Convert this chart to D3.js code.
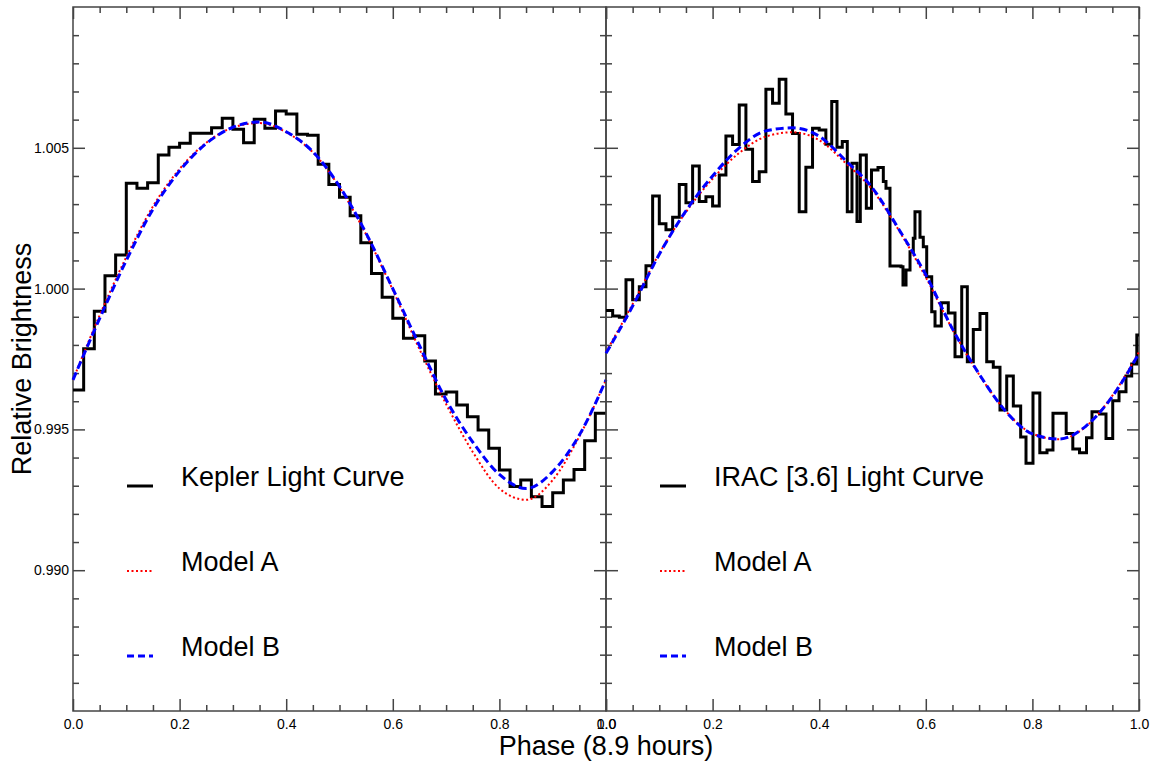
<!DOCTYPE html>
<html lang="en">
<meta charset="UTF-8">
<title>Kepler and IRAC light curves</title>
<style>
body { margin: 0; background: #fff; }
svg text { font-family: "Liberation Sans", Arial, Helvetica, sans-serif; fill: #000; }
.tick line { stroke: #444; stroke-width: 1.5; }
.frame { fill: none; stroke: #444; stroke-width: 1.5; }
.tick text { font-size: 14px; }
</style>
<script src="https://d3js.org/d3.v7.min.js"></script>
<body>
<svg id="chart" width="1158" height="762"></svg>
<script>
// Kepler histogram, 50 bins of 0.02 in phase
var keplerPhase = d3.range(0, 1, 0.02);
var keplerFlux = [
  0.99640, 0.99786, 0.99920, 1.00046, 1.00119, 1.00374, 1.00356, 1.00376, 1.00474, 1.00502,
  1.00516, 1.00552, 1.00552, 1.00571, 1.00605, 1.00566, 1.00518, 1.00601, 1.00569, 1.00631,
  1.00620, 1.00548, 1.00545, 1.00442, 1.00370, 1.00324, 1.00259, 1.00163, 1.00054, 0.99969,
  0.99895, 0.99824, 0.99833, 0.99743, 0.99626, 0.99633, 0.99587, 0.99545, 0.99498, 0.99433,
  0.99356, 0.99297, 0.99320, 0.99261, 0.99226, 0.99275, 0.99320, 0.99358, 0.99460, 0.99557
];

// IRAC [3.6] histogram, left edge of each bin
var iracPhase = [
  0.0000, 0.0125, 0.0250, 0.0375, 0.0500, 0.0625, 0.0750, 0.0875, 0.1000, 0.1125,
  0.1250, 0.1375, 0.1500, 0.1625, 0.1750, 0.1875, 0.2000, 0.2125, 0.2250, 0.2375,
  0.2500, 0.2625, 0.2750, 0.2875, 0.3000, 0.3125, 0.3250, 0.3375, 0.3500, 0.3625,
  0.3750, 0.3875, 0.4000, 0.4125, 0.4235, 0.4334, 0.4433, 0.4527, 0.4615, 0.4709,
  0.4771, 0.4884, 0.4981, 0.5103, 0.5203, 0.5253, 0.5328, 0.5428, 0.5535, 0.5572,
  0.5629, 0.5704, 0.5765, 0.5797, 0.5891, 0.5953, 0.6017, 0.6111, 0.6173, 0.6291,
  0.6422, 0.6548, 0.6674, 0.6779, 0.6891, 0.7017, 0.7143, 0.7266, 0.7392, 0.7518,
  0.7642, 0.7780, 0.7880, 0.8011, 0.8139, 0.8274, 0.8386, 0.8634, 0.8758, 0.8884,
  0.9015, 0.9118, 0.9259, 0.9381, 0.9507, 0.9625, 0.9756, 0.9863, 0.9959
];
var iracFlux = [
  0.99922, 0.99903, 0.99898, 1.00031, 0.99960, 1.00007, 1.00081, 1.00329, 1.00230, 1.00209,
  1.00253, 1.00370, 1.00305, 1.00435, 1.00309, 1.00326, 1.00293, 1.00403, 1.00542, 1.00512,
  1.00652, 1.00495, 1.00380, 1.00415, 1.00708, 1.00658, 1.00743, 1.00620, 1.00551, 1.00273,
  1.00431, 1.00569, 1.00563, 1.00513, 1.00664, 1.00502, 1.00522, 1.00273, 1.00445, 1.00238,
  1.00474, 1.00285, 1.00421, 1.00430, 1.00380, 1.00356, 1.00080, 1.00080, 1.00078, 1.00013,
  1.00066, 1.00131, 1.00179, 1.00273, 1.00182, 1.00149, 1.00042, 0.99918, 0.99867, 0.99950,
  0.99913, 0.99758, 1.00007, 0.99740, 0.99855, 0.99912, 0.99740, 0.99721, 0.99569, 0.99690,
  0.99583, 0.99473, 0.99380, 0.99629, 0.99417, 0.99427, 0.99557, 0.99485, 0.99430, 0.99417,
  0.99470, 0.99563, 0.99555, 0.99468, 0.99602, 0.99634, 0.99690, 0.99732, 0.99835
];

// model curves sampled every 0.05 in phase
var modelPhase = d3.range(0, 21).map(i => i * 0.05);
var keplerModelA = [0.99676, 0.99905, 1.00112, 1.00292, 1.00425, 1.00518, 1.00572, 1.00588, 1.00555, 1.00484,
  1.00360, 1.00192, 0.99995, 0.99785, 0.99590, 0.99420, 0.99290, 0.99250, 0.99320, 0.99475, 0.99676];
var keplerModelB = [0.99676, 0.99894, 1.00100, 1.00282, 1.00418, 1.00515, 1.00573, 1.00592, 1.00557, 1.00486,
  1.00363, 1.00196, 1.00000, 0.99798, 0.99605, 0.99455, 0.99340, 0.99290, 0.99350, 0.99480, 0.99676];
var iracModelA = [0.99775, 0.99945, 1.00125, 1.00272, 1.00390, 1.00482, 1.00540, 1.00555, 1.00527, 1.00445,
  1.00350, 1.00205, 1.00040, 0.99855, 0.99695, 0.99565, 0.99485, 0.99465, 0.99510, 0.99620, 0.99775];
var iracModelB = [0.99770, 0.99938, 1.00122, 1.00276, 1.00400, 1.00500, 1.00560, 1.00571, 1.00541, 1.00454,
  1.00357, 1.00209, 1.00049, 0.99857, 0.99697, 0.99564, 0.99484, 0.99466, 0.99511, 0.99617, 0.99770];

var majorX = [0, 0.2, 0.4, 0.6, 0.8, 1.0];
var minorX = [0.05, 0.1, 0.15, 0.25, 0.3, 0.35, 0.45, 0.5, 0.55, 0.65, 0.7, 0.75, 0.85, 0.9, 0.95];
var majorY = [0.990, 0.995, 1.000, 1.005];
var minorY = d3.range(986, 1010).filter(d => d % 5 != 0).map(d => d / 1000);

var panels = [
  {x0: 73, x1: 606, phase: keplerPhase, flux: keplerFlux, a: keplerModelA, b: keplerModelB, label: "Kepler Light Curve", first: true},
  {x0: 606, x1: 1139, phase: iracPhase, flux: iracFlux, a: iracModelA, b: iracModelB, label: "IRAC [3.6] Light Curve", first: false}
];

var plotTop = 7, plotBottom = 711;
var svg = d3.select("#chart");
var y = d3.scaleLinear().domain([0.985, 1.010]).range([plotBottom, plotTop]);

panels.forEach(p => {
  var x = d3.scaleLinear().domain([0, 1]).range([p.x0, p.x1]);
  var g = svg.append("g");

  // ticks on all four sides, pointing inward
  function ticks(axis, vals, size, tx, ty, fmt) {
    var a = axis.tickValues(vals).tickSize(-size).tickSizeOuter(0).tickFormat(fmt || "");
    var ag = g.append("g").attr("transform", `translate(${tx},${ty})`).call(a);
    ag.select(".domain").remove();
    ag.attr("font-size", null).attr("font-family", null);
    return ag;
  }
  ticks(d3.axisBottom(x), majorX, 12, 0, plotBottom, d3.format(".1f"))
    .selectAll(".tick text").attr("y", 8);
  ticks(d3.axisBottom(x), minorX, 6, 0, plotBottom);
  ticks(d3.axisTop(x), majorX, 12, 0, plotTop);
  ticks(d3.axisTop(x), minorX, 6, 0, plotTop);
  var ly = ticks(d3.axisLeft(y), majorY, 12, p.x0, 0, p.first ? d3.format(".3f") : null);
  ly.selectAll(".tick text").attr("x", -4);
  ticks(d3.axisLeft(y), minorY, 6, p.x0, 0);
  ticks(d3.axisRight(y), majorY, 12, p.x1, 0);
  ticks(d3.axisRight(y), minorY, 6, p.x1, 0);

  g.append("rect").attr("class", "frame")
    .attr("x", p.x0).attr("y", plotTop).attr("width", p.x1 - p.x0).attr("height", plotBottom - plotTop);

  var step = d3.line().x(d => x(d[0])).y(d => y(d[1])).curve(d3.curveStepAfter);
  var smooth = d3.line().x(d => x(d[0])).y(d => y(d[1])).curve(d3.curveMonotoneX);

  var hist = p.phase.map((ph, i) => [ph, p.flux[i]]);
  hist.push([1, p.flux[p.flux.length - 1]]);

  g.append("path").datum(hist).attr("d", step)
    .attr("fill", "none").attr("stroke", "#000").attr("stroke-width", 3);
  g.append("path").datum(modelPhase.map((ph, i) => [ph, p.a[i]])).attr("d", smooth)
    .attr("fill", "none").attr("stroke", "#f00").attr("stroke-width", 2).attr("stroke-dasharray", "2,2.5");
  g.append("path").datum(modelPhase.map((ph, i) => [ph, p.b[i]])).attr("d", smooth)
    .attr("fill", "none").attr("stroke", "#00f").attr("stroke-width", 3).attr("stroke-dasharray", "8,4");

  // legend
  var legend = [
    {text: p.label, color: "#000", dash: null, w: 3, ly: 486},
    {text: "Model A", color: "#f00", dash: "2,2.5", w: 2, ly: 571},
    {text: "Model B", color: "#00f", dash: "7,4", w: 3, ly: 656}
  ];
  legend.forEach(l => {
    g.append("line")
      .attr("x1", p.x0 + 54).attr("x2", p.x0 + 80).attr("y1", l.ly).attr("y2", l.ly)
      .attr("stroke", l.color).attr("stroke-width", l.w).attr("stroke-dasharray", l.dash);
    g.append("text")
      .attr("x", p.x0 + 108).attr("y", l.ly)
      .style("font-size", "27px")
      .text(l.text);
  });
});

svg.append("text")
  .attr("transform", "translate(31,359) rotate(-90)")
  .attr("text-anchor", "middle")
  .style("font-size", "27px")
  .text("Relative Brightness");

svg.append("text")
  .attr("x", 606).attr("y", 755)
  .attr("text-anchor", "middle")
  .style("font-size", "27px")
  .text("Phase (8.9 hours)");
</script>
</body>
</html>
